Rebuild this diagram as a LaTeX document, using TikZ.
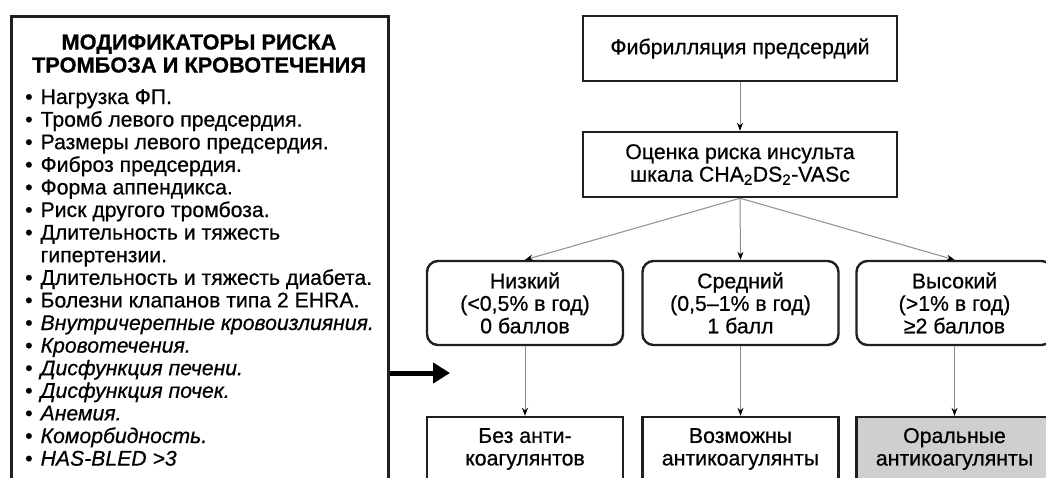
\documentclass[tikz,border=0pt]{standalone}
\usepackage{fontspec}
\setmainfont{Liberation Sans}[FakeBold=0.6]
\usetikzlibrary{arrows.meta}
\tikzset{
  box/.style={draw=black!88, line width=2.4pt, minimum width=314pt, minimum height=65pt,
    align=center, inner sep=0pt, font=\fontsize{21.3}{22.5}\selectfont},
  rbox/.style={box, rounded corners=11pt, minimum width=196pt, minimum height=84pt},
  bbox/.style={box, minimum width=196pt, minimum height=64pt},
  conn/.style={draw=black!45, line width=1pt, -{Stealth[length=8pt,width=6pt,color=black]}},
  bigarrow/.style={draw=black, line width=5pt, -{Triangle[length=17pt,width=20pt]}},
}
\begin{document}
\begin{tikzpicture}[x=1pt,y=-1pt]
\useasboundingbox (0,0) rectangle (1046,477);
% left panel
\node[draw=black!88, line width=3pt, minimum width=377pt, minimum height=500pt, anchor=north west, inner sep=0pt] (mods) at (10,15) {};
\node[font=\bfseries\fontsize{21.8}{23}\selectfont, align=center, inner sep=0pt] (title) at (199,53.5)
  {МОДИФИКАТОРЫ РИСКА\\ТРОМБОЗА И КРОВОТЕЧЕНИЯ};
\node[anchor=base west, inner sep=0pt, font=\fontsize{21.2}{22.6}\selectfont] (list) at (25,104) {%
\begin{tabular}[t]{@{}l@{\hspace{8pt}}l@{}}
\textbullet & Нагрузка ФП.\\
\textbullet & Тромб левого предсердия.\\
\textbullet & Размеры левого предсердия.\\
\textbullet & Фиброз предсердия.\\
\textbullet & Форма аппендикса.\\
\textbullet & Риск другого тромбоза.\\
\textbullet & Длительность и тяжесть\\
 & гипертензии.\\
\textbullet & Длительность и тяжесть диабета.\\
\textbullet & Болезни клапанов типа 2 EHRA.\\
\textbullet & \itshape Внутричерепные кровоизлияния.\\
\textbullet & \itshape Кровотечения.\\
\textbullet & \itshape Дисфункция печени.\\
\textbullet & \itshape Дисфункция почек.\\
\textbullet & \itshape Анемия.\\
\textbullet & \itshape Коморбидность.\\
\textbullet & \itshape HAS-BLED >3\\
\end{tabular}};
\coordinate (tip) at (450,373);
\draw[bigarrow] (mods.east |- tip) -- (tip);
% flowchart
\node[box] (fp) at (740,48.5) {Фибрилляция предсердий};
\node[box] (risk) at (740,164.5) {Оценка риска инсульта\\шкала CHA\textsubscript{2}DS\textsubscript{2}-VASc};
\node[rbox] (low) at (525,303) {Низкий\\(<0,5\% в год)\\0 баллов};
\node[rbox] (mid) at (740.5,303) {Средний\\(0,5–1\% в год)\\1 балл};
\node[rbox] (high) at (954.5,303) {Высокий\\(>1\% в год)\\≥2 баллов};
\node[bbox] (none) at (525,449) {Без анти-\\коагулянтов};
\node[bbox] (poss) at (740.5,449) {Возможны\\антикоагулянты};
\node[bbox, fill=black!19] (oral) at (954.5,449) {Оральные\\антикоагулянты};
\draw[conn] (fp) -- (risk);
\draw[conn] (risk.south) -- (low.north);
\draw[conn] (risk.south) -- (mid.north);
\draw[conn] (risk.south) -- (high.north);
\draw[conn] (low) -- (none);
\draw[conn] (mid) -- (poss);
\draw[conn] (high) -- (oral);
\end{tikzpicture}
\end{document}
